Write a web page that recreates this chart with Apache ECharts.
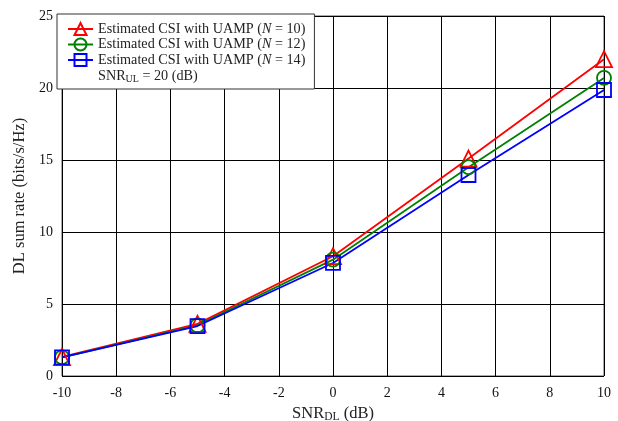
<!DOCTYPE html>
<html><head><meta charset="utf-8">
<script src="https://cdn.jsdelivr.net/npm/echarts@6/dist/echarts.min.js"></script>
<style>html,body{margin:0;padding:0;background:#fff}#c{width:618px;height:421px}</style>
</head><body><div id="c"></div>
<script>
const snr = [-10, -5, 0, 5, 10];
const rateN10 = [1.32, 3.62, 8.32, 15.1, 22.0];
const rateN12 = [1.3, 3.52, 8.08, 14.5, 20.7];
const rateN14 = [1.3, 3.47, 7.85, 13.96, 19.86];
const xTicks = [-10, -8, -6, -4, -2, 0, 2, 4, 6, 8, 10];
const yTicks = [0, 5, 10, 15, 20, 25];

const FONT = '"Liberation Serif", "DejaVu Serif", serif';
const chart = echarts.init(document.getElementById('c'), null, {renderer: 'canvas'});
const mk = (name, data, color, symbol, size) => ({
  name, type: 'line', data: snr.map((x, i) => [x, data[i]]),
  symbol, symbolSize: size, showSymbol: true,
  lineStyle: {color, width: 1.8},
  itemStyle: {color: 'rgba(255,255,255,0)', borderColor: color, borderWidth: 1.8},
  emphasis: {disabled: true}, z: 3
});
const rich = {
  t: {fontFamily: FONT, fontSize: 14.2, color: '#222'},
  i: {fontFamily: FONT, fontSize: 14.2, fontStyle: 'italic', color: '#222'},
  s: {fontFamily: FONT, fontSize: 10, color: '#222', verticalAlign: 'bottom', padding: [6, 0, 0, 0]}
};
const labels = {
  'N10': '{t|Estimated CSI with UAMP (}{i|N}{t| = 10)}',
  'N12': '{t|Estimated CSI with UAMP (}{i|N}{t| = 12)}',
  'N14': '{t|Estimated CSI with UAMP (}{i|N}{t| = 14)}',
  'SNR': '{t|SNR}{s|UL}{t| = 20 (dB)}'
};
chart.setOption({
  animation: false,
  backgroundColor: '#fff',
  grid: {left: 62, right: 14, top: 16, bottom: 45, show: true, borderColor: '#555', borderWidth: 1,
         outerBoundsMode: 'none', containLabel: false},
  legend: {
    left: 57, top: 14, orient: 'vertical',
    data: [{name: 'N10'}, {name: 'N12'}, {name: 'N14'}, {name: 'SNR', icon: 'none'}],
    itemWidth: 25, itemHeight: 15, itemGap: 1.5,
    padding: [8, 9, 5, 10],
    backgroundColor: '#fff', borderColor: '#333', borderWidth: 1, borderRadius: 0,
    formatter: n => labels[n],
    textStyle: {rich, fontFamily: FONT, fontSize: 14.2, color: '#222'},
    selectedMode: false
  },
  xAxis: {
    type: 'value', min: -10, max: 10, interval: 2,
    name: '{t|SNR}{s|DL}{t| (dB)}', nameLocation: 'middle', nameGap: 26,
    nameTextStyle: {rich: {
      t: {fontFamily: FONT, fontSize: 16.5, color: '#222'},
      s: {fontFamily: FONT, fontSize: 11.5, color: '#222', verticalAlign: 'bottom', padding: [8, 0, 0, 0]}
    }},
    axisLine: {show: false}, axisTick: {show: false},
    axisLabel: {fontFamily: FONT, fontSize: 14, color: '#111', margin: 10},
    splitLine: {show: true, lineStyle: {color: '#000', width: 1}}
  },
  yAxis: {
    type: 'value', min: 0, max: 25, interval: 5,
    name: 'DL sum rate (bits/s/Hz)', nameLocation: 'middle', nameGap: 28,
    nameTextStyle: {fontFamily: FONT, fontSize: 16.5, color: '#222'},
    axisLine: {show: false}, axisTick: {show: false},
    axisLabel: {fontFamily: FONT, fontSize: 14, color: '#111', margin: 9},
    splitLine: {show: true, lineStyle: {color: '#000', width: 1}}
  },
  series: [
    mk('N10', rateN10, '#ff0000', 'triangle', 16),
    mk('N12', rateN12, '#008000', 'circle', 14),
    mk('N14', rateN14, '#0000ff', 'rect', 14),
    {name: 'SNR', type: 'line', data: [], symbol: 'none', lineStyle: {opacity: 0}}
  ]
});
</script></body></html>
